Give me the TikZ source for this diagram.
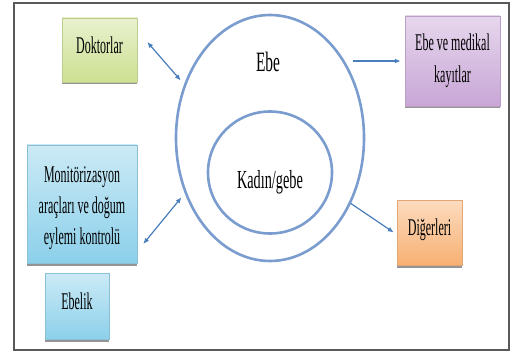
\documentclass[tikz,border=0pt]{standalone}
\usepackage{fontspec}
\setmainfont{Liberation Serif}
\usepackage{graphicx}
\usepackage{tikz}
\usetikzlibrary{positioning}
\usetikzlibrary{arrows.meta}
\usetikzlibrary{shapes.geometric}
\usetikzlibrary{shadows}
\definecolor{arrowblue}{RGB}{74,126,187}
\definecolor{ringblue}{RGB}{122,156,206}
\definecolor{greenbox}{RGB}{205,224,146}
\definecolor{bluebox}{RGB}{140,208,234}
\definecolor{purplebox}{RGB}{200,166,214}
\definecolor{orangebox}{RGB}{248,176,114}
% narrow, tall letters
\newcommand{\sq}[1]{\scalebox{0.5}[1]{#1}}
\newcommand{\sqlbl}[1]{\scalebox{0.55}[1]{#1}}
\tikzset{>={Latex[width=5pt,length=6pt]}}
\tikzset{
  box/.style={draw=#1!80!gray, line width=0.5pt, top color=#1!45!white, bottom color=#1,
    drop shadow={shadow xshift=0pt, shadow yshift=-2.5pt, fill=black!60, opacity=0.7},
    align=center, inner sep=2pt, font=\fontsize{24}{32}\selectfont},
  oneline/.style={text depth=10pt},
  ring/.style={ellipse, draw=ringblue, line width=2.6pt, inner sep=0pt},
  lbl/.style={font=\fontsize{28}{32}\selectfont},
  arrow/.style={draw=arrowblue, fill=arrowblue, line width=1.2pt},
}

\begin{document}
\begin{tikzpicture}[x=1pt,y=1pt]
    \useasboundingbox (0,0) rectangle (514,354);
    \draw [black!65, line width=1.2pt] (14,4) rectangle (509,351);

    \node (ebe) [ring, minimum width=188pt, minimum height=246pt] at (270,216) {};
    \node (kad) [ring, minimum width=124pt, minimum height=122pt] at (270,181.5) {};
    \node (ebetxt) [lbl, anchor=base] at (268,282) {\sqlbl{Ebe}};
    \node (kadtxt) [lbl, anchor=base, font=\fontsize{26}{30}\selectfont] at (270,166) {\sqlbl{Kadın/gebe}};

    \node (dok) [box=greenbox, oneline, minimum width=75pt, minimum height=64pt] at (99.5,304) {\sq{Doktorlar}};
    \node (mon) [box=bluebox, text height=86pt, font=\fontsize{24}{31}\selectfont, minimum width=110pt, minimum height=118pt] at (82,150) {\sq{Monitörizasyon}\\ \sq{araçları ve doğum}\\ \sq{eylemi kontrolü}};
    \node (ebl) [box=bluebox, oneline, minimum width=64pt, minimum height=66pt, below right=10pt and 18pt of mon.south west] {\sq{Ebelik}};
    \node (med) [box=purplebox, minimum width=95pt, minimum height=90pt] at (452.5,293) {\sq{Ebe ve medikal}\\ \sq{kayıtlar}};
    \node (dig) [box=orangebox, oneline, minimum width=65pt, minimum height=65pt] at (429.5,121.5) {\sq{Diğerleri}};

    \path [arrow, <->, shorten >=5pt] ([shift={(10,8)}]dok.east) -- (ebe.148);
    \path [arrow, <->, shorten >=5pt] ([shift={(6,-40)}]mon.east) -- (ebe.213);
    \path [arrow, ->] ([xshift=5pt]ebe.43 |- med.west) -- ([xshift=-4pt]med.west);
    \path [arrow, ->] (ebe.-39) -- ([xshift=-3pt]dig.west);
\end{tikzpicture}
\end{document}
